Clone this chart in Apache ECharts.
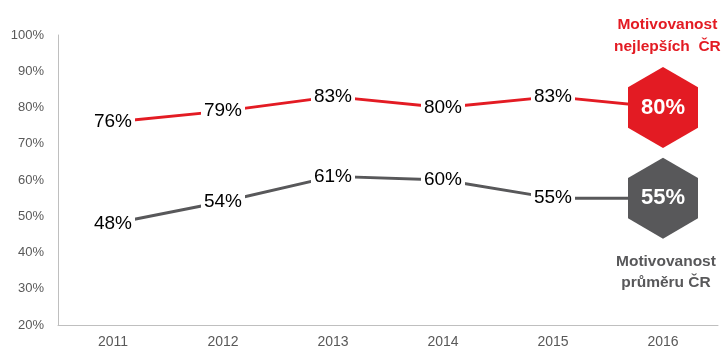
<!DOCTYPE html>
<html><head><meta charset="utf-8">
<script src="https://cdn.jsdelivr.net/npm/echarts@6/dist/echarts.min.js"></script>
<style>html,body{margin:0;padding:0;background:#fff}#c{width:724px;height:358px}</style>
</head><body><div id="c"></div>
<script>
var years = ['2011','2012','2013','2014','2015','2016'];
var bestValues = [76, 79, 83, 80, 83, 80];
var avgValues = [48, 54, 61, 60, 55, 55];
var yTicks = [20, 30, 40, 50, 60, 70, 80, 90, 100];
var bestTitle = 'Motivovanost\nnejlepších  ČR';
var avgTitle = 'Motivovanost\nprůměru ČR';

var RED = '#e31b23', GRAY = '#58585a';
var HEX = 'path://M50,0 L100,28.87 L100,86.6 L50,115.47 L0,86.6 L0,28.87 Z';
var FONT = 'Arial, "Liberation Sans", sans-serif';

function buildData(vals, color) {
  return vals.map(function (v, i) {
    if (i === vals.length - 1) {
      return {
        value: v,
        symbol: HEX,
        symbolSize: [70, 81],
        itemStyle: { color: color },
        label: { show: true, position: 'inside', formatter: v + '%', color: '#fff',
          fontSize: 22, fontWeight: 'bold', fontFamily: FONT, backgroundColor: 'transparent', padding: 0 }
      };
    }
    return { value: v };
  });
}

function lineSeries(vals, color) {
  return {
    type: 'line',
    data: buildData(vals, color),
    symbol: 'circle',
    symbolSize: 0,
    showSymbol: true,
    lineStyle: { color: color, width: 3 },
    itemStyle: { color: color },
    label: {
      show: true, position: 'inside', formatter: '{c}%', color: '#000', fontSize: 19,
      fontFamily: FONT, backgroundColor: '#fff', padding: [2, 3]
    },
    animation: false,
    z: 3
  };
}

var chart = echarts.init(document.getElementById('c'));
chart.setOption({
  animation: false,
  grid: { left: 58, right: 6, top: 35, bottom: 33 },
  xAxis: {
    type: 'category', data: years, boundaryGap: true,
    axisLine: { lineStyle: { color: '#bfbfbf', width: 1 } },
    axisTick: { show: false },
    axisLabel: { color: '#595959', fontSize: 14, fontFamily: FONT, margin: 10 }
  },
  yAxis: {
    type: 'value', min: yTicks[0], max: yTicks[yTicks.length - 1], interval: 10,
    axisLine: { show: true, lineStyle: { color: '#bfbfbf', width: 1 } },
    axisTick: { show: false },
    splitLine: { show: false },
    axisLabel: { color: '#595959', fontSize: 13, fontFamily: FONT, margin: 14, formatter: '{value}%' }
  },
  graphic: [
    { type: 'text', left: 614, top: 14, style: { text: bestTitle, fill: RED, font: 'bold 15.5px ' + FONT, textAlign: 'center', lineHeight: 22, x: 50 } },
    { type: 'text', left: 616, top: 251, style: { text: avgTitle, fill: GRAY, font: 'bold 15.5px ' + FONT, textAlign: 'center', lineHeight: 21, x: 50 } }
  ],
  series: [lineSeries(bestValues, RED), lineSeries(avgValues, GRAY)]
});
</script></body></html>
